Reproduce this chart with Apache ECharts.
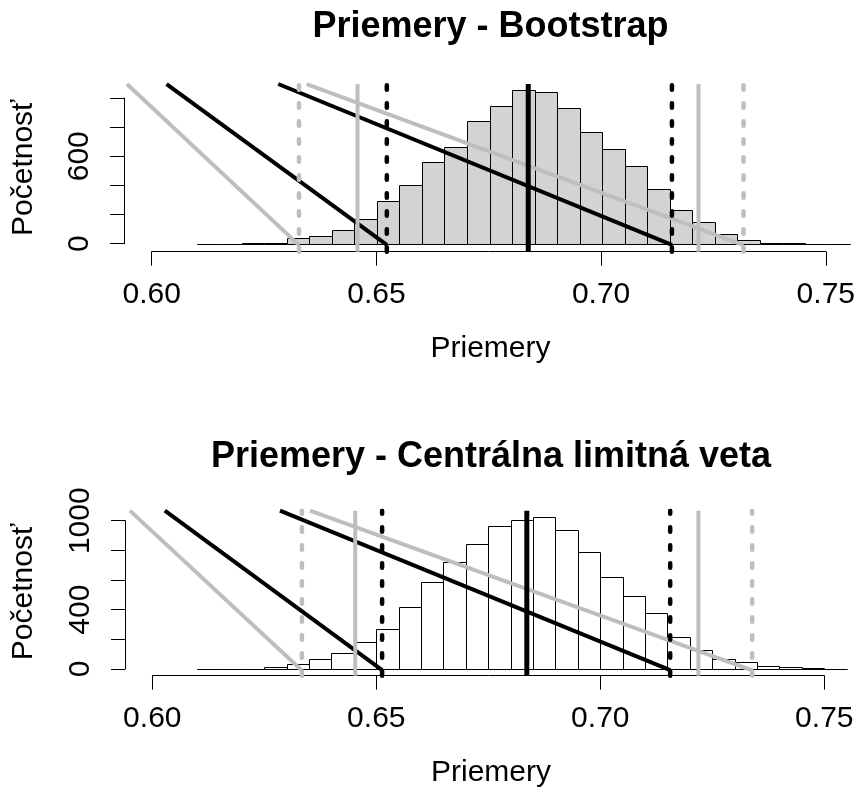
<!DOCTYPE html>
<html>
<head>
<meta charset="utf-8">
<script src="https://cdn.jsdelivr.net/npm/echarts@6/dist/echarts.min.js"></script>
<style>
html,body{margin:0;padding:0;background:#fff;}
#c{width:858px;height:787px;}
</style>
</head>
<body>
<div id="c"></div>
<script>
// ---------------- data ----------------
const binLower = [0.610,0.615,0.620,0.625,0.630,0.635,0.640,0.645,0.650,0.655,0.660,0.665,0.670,0.675,0.680,0.685,0.690,0.695,0.700,0.705,0.710,0.715,0.720,0.725,0.730,0.735,0.740,0.745,0.750];
const binWidth = 0.005;
const bootCounts = [1,0,2,7,39,53,92,172,293,405,558,666,842,943,1055,1043,933,769,648,535,373,231,148,64,27,7,2,1,1];
const cltCounts  = [1,1,3,11,34,65,106,182,272,420,584,724,841,966,1007,1027,937,791,623,494,378,214,128,70,50,22,11,4,1];

const xTicks = [0.60, 0.65, 0.70, 0.75];
const yTicks = [0, 200, 400, 600, 800, 1000];
const bootYLabels = [0, 600];
const cltYLabels = [0, 400, 1000];

// vertical reference lines [x]
const bootMean = 0.6836;
const bootCI95 = [0.6522, 0.7155];   // black dotted
const bootCI99s = [0.6457, 0.7214];  // gray solid
const bootCI99 = [0.6327, 0.7314];   // gray dotted
const cltMean = 0.6836;
const cltCI95 = [0.6513, 0.7156];
const cltCI99s = [0.6453, 0.7219];
const cltCI99 = [0.6334, 0.7339];

// diagonal lines: [xTop, yTop, xBottom, yBottom]
const bootDiagBlack = [[0.6033, 1096, 0.6522, -8], [0.6281, 1096, 0.7155, -8]];
const bootDiagGray  = [[0.5945, 1096, 0.6327, -10], [0.6344, 1096, 0.7314, -10]];
const cltDiagBlack  = [[0.6028, 1068, 0.6513, -8], [0.6285, 1068, 0.7156, -8]];
const cltDiagGray   = [[0.5950, 1068, 0.6334, -10], [0.6352, 1068, 0.7339, -10]];

const titles = ['Priemery - Bootstrap', 'Priemery - Centrálna limitná veta'];
const xTitle = 'Priemery';
const yTitle = 'Početnosť';

// ---------------- layout ----------------
const FONT = "'Liberation Sans', Arial, Helvetica, sans-serif";
const panels = [
  { counts: bootCounts, fill: '#D3D3D3', ylabels: bootYLabels,
    mean: bootMean, ci95: bootCI95, ci99s: bootCI99s, ci99: bootCI99,
    diagB: bootDiagBlack, diagG: bootDiagGray,
    region: {left:124, top:84, right:857, bottom:251.7}, xmin:0.59385, xmax:0.75659, ymin:-54.9, ymax:1096.1,
    xaxis: {left:151.7, right:827.3}, yaxis: {top:98, bottom:243.7},
    title: titles[0], titleY: 27.5, tickLabelY: 294.7, xTitleY: 348.8, yTitleY: 167.8 },
  { counts: cltCounts, fill: '#FFFFFF', ylabels: cltYLabels,
    mean: cltMean, ci95: cltCI95, ci99s: cltCI99s, ci99: cltCI99,
    diagB: cltDiagBlack, diagG: cltDiagGray,
    region: {left:125, top:510.7, right:857, bottom:675.7}, xmin:0.59391, xmax:0.7573, ymin:-45.2, ymax:1067.4,
    xaxis: {left:152.3, right:824.3}, yaxis: {top:520.7, bottom:669},
    title: titles[1], titleY: 457, tickLabelY: 718.7, xTitleY: 772.7, yTitleY: 592 }
];

const W = 858, H = 787;
const grid = [], xAxis = [], yAxis = [], series = [], graphic = [];

panels.forEach((p, i) => {
  const g0 = grid.length;
  // data grid (plot region)
  grid.push({ left: p.region.left, top: p.region.top, width: p.region.right - p.region.left, height: p.region.bottom - p.region.top, containLabel:false });
  xAxis.push({ gridIndex: g0, type:'value', min:p.xmin, max:p.xmax, show:false });
  yAxis.push({ gridIndex: g0, type:'value', min:p.ymin, max:p.ymax, show:false });
  // x axis grid
  grid.push({ left: p.xaxis.left, top: p.region.bottom - 20, width: p.xaxis.right - p.xaxis.left, height: 20 });
  xAxis.push({ gridIndex: g0+1, type:'value', min:xTicks[0], max:xTicks[xTicks.length-1], interval:0.05,
    axisLine:{show:true, onZero:false, lineStyle:{color:'#000', width:1}},
    axisTick:{show:true, length:14, lineStyle:{color:'#000', width:1}},
    splitLine:{show:false},
    axisLabel:{show:true, margin:43, verticalAlign:'middle', color:'#000', fontSize:30, fontFamily:FONT,
      formatter: v => xTicks.find(t => Math.abs(t - v) < 1e-9) !== undefined ? v.toFixed(2) : ''} });
  yAxis.push({ gridIndex: g0+1, type:'value', show:false, min:0, max:1 });
  // y axis grid
  grid.push({ left: p.region.left, top: p.yaxis.top, width: 20, height: p.yaxis.bottom - p.yaxis.top });
  xAxis.push({ gridIndex: g0+2, type:'value', show:false, min:0, max:1 });
  yAxis.push({ gridIndex: g0+2, type:'value', min:yTicks[0], max:yTicks[yTicks.length-1], interval:200,
    axisLine:{show:true, onZero:false, lineStyle:{color:'#000', width:1}},
    axisTick:{show:true, length:14, lineStyle:{color:'#000', width:1}},
    splitLine:{show:false},
    axisLabel:{show:true, rotate:90, margin:44, align:'center', verticalAlign:'middle', color:'#000', fontSize:30, fontFamily:FONT,
      formatter: v => p.ylabels.indexOf(v) >= 0 ? String(v) : ''} });

  // histogram
  series.push({
    type:'custom', xAxisIndex:g0, yAxisIndex:g0, z:2,
    data: binLower.map((b, k) => [b, b + binWidth, p.counts[k]]),
    encode:{x:[0,1], y:2},
    renderItem: (params, api) => {
      const a = api.coord([api.value(0), 0]);
      const b = api.coord([api.value(1), api.value(2)]);
      const x0 = Math.round(a[0]) + 0.5, x1 = Math.round(b[0]) + 0.5;
      const y0 = Math.round(a[1]) + 0.5, y1 = Math.round(b[1]) + 0.5;
      return { type:'rect', shape:{x:x0, y:y1, width:x1-x0, height:y0-y1},
        style:{fill:p.fill, stroke:'#000', lineWidth:1} };
    }
  });

  const lineS = (pts, color, width, dash, z, cap) => ({
    type:'line', xAxisIndex:g0, yAxisIndex:g0, data:pts, symbol:'none', silent:true, clip:true, z:z,
    lineStyle:{color:color, width:width, type: dash ? [4.5, 13.5] : 'solid', cap: cap || 'round'}
  });
  // diagonal lines
  p.diagG.forEach(d => series.push(lineS([[d[0], d[1]], [d[2], d[3]]], '#BEBEBE', 4, false, 3, 'butt')));
  p.diagB.forEach(d => series.push(lineS([[d[0], d[1]], [d[2], d[3]]], '#000000', 4, false, 3, 'butt')));
  // vertical lines
  const vert = x => [[x, p.ymin], [x, p.ymax]];
  p.ci99s.forEach(x => series.push(lineS(vert(x), '#BEBEBE', 4, false, 4, 'butt')));
  p.ci99.forEach(x => series.push(lineS(vert(x), '#BEBEBE', 4.5, true, 4)));
  p.ci95.forEach(x => series.push(lineS(vert(x), '#000000', 4.5, true, 4)));
  series.push(lineS(vert(p.mean), '#000000', 5, false, 5, 'butt'));

  // texts
  const cx = (p.region.left + p.region.right) / 2;
  graphic.push({ type:'text', x:cx, y:p.titleY, style:{ text:p.title, font:`bold 36px ${FONT}`, fill:'#000', align:'center', verticalAlign:'middle' } });
  graphic.push({ type:'text', x:cx, y:p.xTitleY, style:{ text:xTitle, font:`30px ${FONT}`, fill:'#000', align:'center', verticalAlign:'middle' } });
  graphic.push({ type:'text', x:23.5, y:p.yTitleY, rotation:Math.PI/2, style:{ text:yTitle, font:`30px ${FONT}`, fill:'#000', align:'center', verticalAlign:'middle' } });
});

const chart = echarts.init(document.getElementById('c'), null, {renderer:'canvas', width:W, height:H});
chart.setOption({
  animation:false,
  backgroundColor:'#fff',
  grid, xAxis, yAxis, series, graphic
});
</script>
</body>
</html>
